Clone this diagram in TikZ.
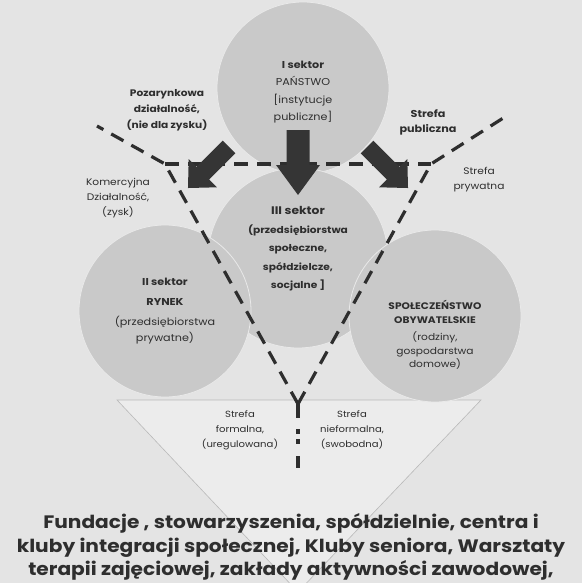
\documentclass[tikz,border=0pt]{standalone}
\usepackage{fontspec}
\setmainfont{Poppins}[FakeStretch=1.12]
\definecolor{pagegray}{HTML}{E4E4E4}
\definecolor{circlegray}{HTML}{C9C9C9}
\definecolor{trianglegray}{HTML}{ECECEC}
\definecolor{inkgray}{HTML}{2E2E2E}
\definecolor{arrowgray}{HTML}{353535}
\tikzset{
  pics/blockarrow/.style n args={4}{code={
    \fill[arrowgray] (0,-#3) -- (#1-#2,-#3) -- (#1-#2,-#4) -- (#1,0)
      -- (#1-#2,#4) -- (#1-#2,#3) -- (0,#3) -- cycle;}}
}
\begin{document}
\begin{tikzpicture}[x=1pt,y=-1pt,
  sector/.style={circle,fill=circlegray,draw=white!60!circlegray,line width=0.8pt,minimum size=#1,inner sep=0pt},
  sectortext/.style={align=center,text=inkgray,font={\fontsize{10}{17.5}\selectfont}},
  zonetext/.style={align=center,text=inkgray,font={\fontsize{9.5}{15}\selectfont}},
  zone/.style={draw=inkgray,line width=3.2pt,dash pattern=on 14pt off 9pt}]
  \useasboundingbox (0,0) rectangle (582,583);
  \fill[pagegray] (0,0) rectangle (582,583);
  \filldraw[fill=trianglegray,draw=gray!55,line width=0.6pt] (117,400) -- (481,400) -- (298,592) -- cycle;

  \node[sector=172] (panstwo) at (303,88) {};
  \node[sector=180] (trzeci) at (298,258) {};
  \node[sector=172] (rynek) at (165,311) {};
  \node[sector=172] (obywatele) at (435,316) {};

  \coordinate (fork) at (298,404);
  \coordinate (leftcorner) at (165,164);
  \coordinate (rightcorner) at (431,164);
  \coordinate (leftend) at (97,126);
  \coordinate (rightend) at (508,115);
  \draw[zone] (fork) -- (leftcorner) -- (leftend);
  \draw[zone] (fork) -- (rightcorner) -- (rightend);
  \draw[zone] (leftcorner) -- (rightcorner);
  \draw[inkgray,line width=3.4pt,dash pattern=on 14pt off 11pt on 5pt off 5pt on 5pt off 12pt on 12pt]
    (fork) -- ++(0,64);

  \pic[rotate=-90] at (298,130) {blockarrow={65}{30}{11.5}{22}};
  \pic[rotate=-135] at (229,147) {blockarrow={58}{21}{9}{20}};
  \pic[rotate=-45] at (367,147) {blockarrow={58}{21}{9}{20}};

  \node[sectortext] (panstwotext) at (303,92)
    {\textbf{I sektor}\\ PAŃSTWO\\ {[}instytucje\\ publiczne{]}};
  \node[sectortext,font={\bfseries\fontsize{9.5}{18.5}\selectfont}] (trzecitext) at (298,249)
    {{\fontsize{11}{18.5}\selectfont III sektor}\\ (przedsiębiorstwa\\ społeczne,\\ spółdzielcze,\\ socjalne {]}};
  \node[sectortext,font={\fontsize{10}{16}\selectfont}] (rynektext) at (165,311)
    {\textbf{II sektor}\\[4pt] \textbf{RYNEK}\\[4pt] (przedsiębiorstwa\\ prywatne)};
  \node[sectortext,font={\fontsize{9.5}{13.5}\selectfont}] (obywateletext) at (435,335)
    {\textbf{SPOŁECZEŃSTWO}\\ \textbf{OBYWATELSKIE}\\[4pt] (rodziny,\\ gospodarstwa\\ domowe)};

  \node[zonetext,font={\bfseries\fontsize{9.5}{16}\selectfont}] (pozarynkowa) at (167,110)
    {Pozarynkowa\\ działalność,\\ (nie dla zysku)};
  \node[zonetext,font={\bfseries\fontsize{10}{15}\selectfont}] (publiczna) at (428,122)
    {Strefa\\ publiczna};
  \node[zonetext] (komercyjna) at (118,198) {Komercyjna\\ Działalność,\\ (zysk)};
  \node[zonetext] (prywatna) at (479,180) {Strefa\\ prywatna};
  \node[zonetext,font={\fontsize{9}{15}\selectfont}] (formalna) at (240,430) {Strefa\\ formalna,\\ (uregulowana)};
  \node[zonetext,font={\fontsize{9}{15}\selectfont}] (nieformalna) at (352,430) {Strefa\\ nieformalna,\\ (swobodna)};

  \node[align=center,text=inkgray,font={\bfseries\fontsize{18}{23.5}\selectfont}] (formy) at (291,547)
    {Fundacje , stowarzyszenia, spółdzielnie, centra i\\
     kluby integracji społecznej, Kluby seniora, Warsztaty\\
     terapii zajęciowej, zakłady aktywności zawodowej,};
\end{tikzpicture}
\end{document}
